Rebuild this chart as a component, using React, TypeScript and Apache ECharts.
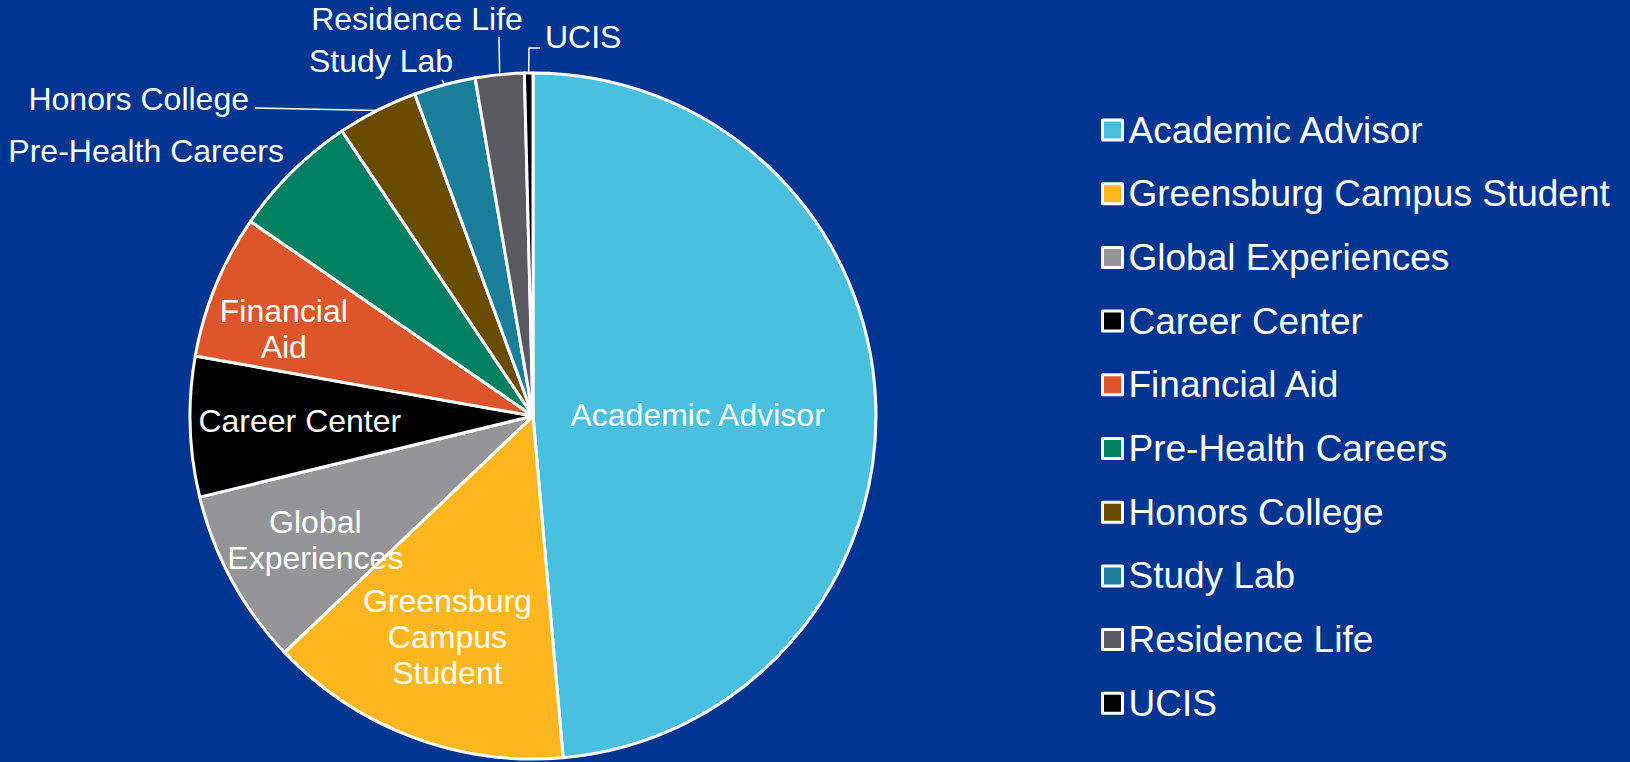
import React, { useEffect, useRef } from "react";
import * as echarts from "echarts";

const categories = [
  "Academic Advisor",
  "Greensburg Campus Student",
  "Global Experiences",
  "Career Center",
  "Financial Aid",
  "Pre-Health Careers",
  "Honors College",
  "Study Lab",
  "Residence Life",
  "UCIS",
];
const values = [48.6, 14.3, 8.3, 6.6, 6.8, 6.0, 3.8, 2.9, 2.3, 0.4];
const sliceLabels = [
  "Academic Advisor",
  "Greensburg\nCampus\nStudent",
  "Global\nExperiences",
  "Career Center",
  "Financial\nAid",
  "Pre-Health Careers",
  "Honors College",
  "Study Lab",
  "Residence Life",
  "UCIS",
];
const colors = [
  "#49C0E0",
  "#FDB71E",
  "#959597",
  "#000000",
  "#DD562B",
  "#008060",
  "#6A4C00",
  "#1A7E9A",
  "#5B5B5F",
  "#000000",
];

// layout of labels (not data)
const CX = 533;
const CY = 416;
const R = 343;
type InsideL = { kind: "in"; rf: number; da: number };
type OutL = { kind: "out"; x: number; y: number; align: string; line: number[][] | null };
const labelPlace: (InsideL | OutL)[] = [
  { kind: "in", rf: 0.48, da: 2 },
  { kind: "in", rf: 0.69, da: 0.5 },
  { kind: "in", rf: 0.73, da: -1 },
  { kind: "in", rf: 0.68, da: 0.5 },
  { kind: "in", rf: 0.77, da: -3 },
  { kind: "out", x: 284, y: 151, align: "right", line: null },
  { kind: "out", x: 249, y: 99, align: "right", line: [[255, 108]] },
  { kind: "out", x: 381, y: 61, align: "center", line: [[442, 80]] },
  { kind: "out", x: 417, y: 19, align: "center", line: [[499, 37]] },
  { kind: "out", x: 545, y: 37, align: "left", line: [[529, 48], [540, 48]] },
];

export default function App() {
  const ref = useRef<HTMLDivElement>(null);
  useEffect(() => {
    document.body.style.margin = "0";
    const chart = echarts.init(ref.current!, null, { renderer: "svg" });
    const total = values.reduce((a, b) => a + b, 0);
    const mids: number[] = [];
    let acc = 0;
    values.forEach((v) => {
      const a0 = (acc / total) * 360;
      acc += v;
      const a1 = (acc / total) * 360;
      mids.push((a0 + a1) / 2);
    });
    const polar = (deg: number, r: number) => {
      const t = (deg * Math.PI) / 180;
      return [CX + r * Math.sin(t), CY - r * Math.cos(t)];
    };
    const font = "'Liberation Sans', Arial, sans-serif";
    chart.setOption({
      animation: false,
      backgroundColor: "#003591",
      legend: {
        orient: "vertical",
        left: 1096,
        top: 103,
        icon: "rect",
        itemWidth: 20,
        itemHeight: 20,
        itemGap: 19.7,
        itemStyle: { borderColor: "#ffffff", borderWidth: 3 },
        textStyle: { color: "#ffffff", fontSize: 37, fontFamily: font, lineHeight: 44, padding: [0, 0, 0, 1] },
        data: categories,
      },
      series: [
        {
          type: "pie",
          center: [CX, CY],
          radius: R,
          startAngle: 90,
          clockwise: true,
          avoidLabelOverlap: false,
          itemStyle: { borderColor: "#ffffff", borderWidth: 3 },
          label: { color: "#ffffff", fontSize: 32, fontFamily: font, lineHeight: 36 },
          labelLine: { lineStyle: { color: "#ffffff", width: 1.5 }, length: 5, length2: 5 },
          labelLayout: (params: any) => {
            const i = params.dataIndex;
            const p = labelPlace[i];
            if (p.kind === "in") {
              const [x, y] = polar(mids[i] + p.da, p.rf * R);
              return { x, y, align: "center", verticalAlign: "middle" };
            }
            const edge = polar(mids[i], R);
            const res: any = { x: p.x, y: p.y, align: p.align, verticalAlign: "middle" };
            if (p.line) {
              const pts = [edge, ...p.line];
              res.labelLinePoints = pts.length === 2 ? [pts[0], pts[0], pts[1]].reverse() : pts.slice().reverse();
            }
            return res;
          },
          data: categories.map((name, i) => {
            const p = labelPlace[i];
            return {
              name,
              value: values[i],
              itemStyle: { color: colors[i] },
              label: {
                show: true,
                position: p.kind === "in" ? "inside" : "outside",
                formatter: sliceLabels[i],
              },
              labelLine: { show: p.kind === "out" && !!(p as OutL).line },
            };
          }),
        },
      ],
    });
    return () => chart.dispose();
  }, []);
  return <div ref={ref} style={{ width: 1630, height: 762 }} />;
}
